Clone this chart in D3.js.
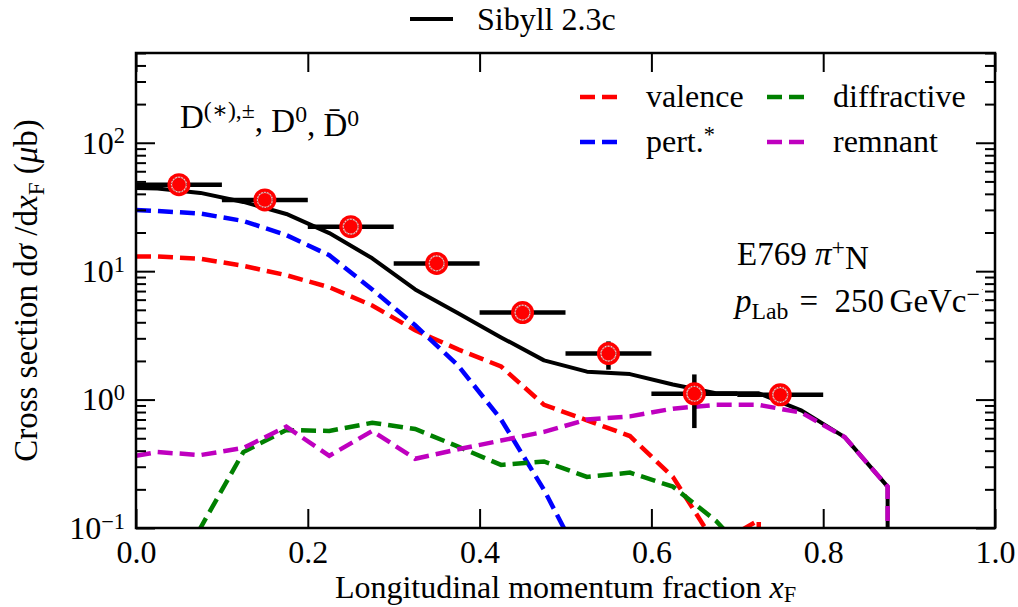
<!DOCTYPE html>
<html>
<head>
<meta charset="utf-8">
<script src="https://cdn.jsdelivr.net/npm/d3@7"></script>
<style>
  body { margin: 0; background: #fff; }
  svg text { font-family: "Liberation Serif", "Times New Roman", "DejaVu Serif", serif; fill: #000; }
</style>
</head>
<body>
<div class="svg-canvas"></div>
<script>
// D meson xF spectrum, E769 pi+ N at 250 GeV, vs Sibyll 2.3c components

// model nodes (bin centres, first node pinned to the axis edge)
var xF = [0, 0.025, 0.075, 0.125, 0.175, 0.225, 0.275, 0.325, 0.375, 0.425,
          0.475, 0.525, 0.575, 0.625, 0.675, 0.725, 0.775, 0.825, 0.875, 0.925];

var sibyll      = [44.5, 44.0, 40.7, 34.6, 27.9, 19.8, 12.6, 7.2, 4.7, 3.05,
                   2.02, 1.65, 1.58, 1.31, 1.12, 1.12, 0.82, 0.51, 0.21, 0];
var valence     = [13.0, 13.0, 12.5, 11.0, 9.3, 7.5, 5.4, 3.46, 2.46, 1.81,
                   0.91, 0.69, 0.52, 0.25, 0.074, 0.115, 0, null, null, null];
var pert        = [30.0, 29.4, 28.1, 24.6, 19.1, 13.3, 7.2, 3.79, 1.84, 0.70,
                   0.198, 0.045, 0.008, null, null, null, null, null, null, null];
var diffractive = [0.005, 0.02, 0.10, 0.39, 0.58, 0.57, 0.66, 0.59, 0.43, 0.31,
                   0.33, 0.25, 0.27, 0.21, 0.114, 0.05, 0.02, null, null, null];
var remnant     = [0.365, 0.39, 0.37, 0.42, 0.615, 0.365, 0.57, 0.346, 0.41, 0.48,
                   0.56, 0.70, 0.74, 0.85, 0.91, 0.91, 0.79, 0.51, 0.21, 0];

// E769 measurement
var dataX    = [0.05, 0.15, 0.25, 0.35, 0.45, 0.55, 0.65, 0.75];
var dataY    = [47.2, 35.9, 22.2, 11.5, 4.76, 2.28, 1.11, 1.09];
var dataXErr = [0.05, 0.05, 0.05, 0.05, 0.05, 0.05, 0.05, 0.05];
var dataYLo  = [3.0, 2.5, 1.6, 0.8, 0.35, 0.57, 0.51, 0.08];
var dataYHi  = [3.0, 2.5, 1.6, 0.8, 0.35, 0.56, 0.46, 0.08];

var xTicks = [0, 0.2, 0.4, 0.6, 0.8, 1.0];

var pl = {};
pl.margin = { top: 53, left: 136, right: 23, bottom: 79 };
pl.width = 1018 - pl.margin.left - pl.margin.right;
pl.height = 607 - pl.margin.top - pl.margin.bottom;
pl.font = 32;
pl.dash = "15,7";

var svg = d3.select("body").select(".svg-canvas").append("svg")
    .attr("width", 1018)
    .attr("height", 607);

var defs = svg.append("defs");
defs.append("clipPath").attr("id", "plotClip")
  .append("rect").attr("width", pl.width).attr("height", pl.height);

var g = svg.append("g")
    .attr("transform", "translate(" + pl.margin.left + "," + pl.margin.top + ")");

var x = d3.scaleLinear().domain([0, 1]).range([0, pl.width]);
var y = d3.scaleLog().domain([0.1, 500]).range([pl.height, 0]);

// ---- model curves ----
function curve(vals) {
  // a zero drops straight down from the previous node, like a log plot does
  var pts = [];
  vals.forEach(function(v, i) {
    if (v === null) return;
    if (v === 0) pts.push([x(xF[i - 1]), pl.height + 40]);
    else pts.push([x(xF[i]), y(v)]);
  });
  return d3.line()(pts);
}

var lines = g.append("g").attr("clip-path", "url(#plotClip)");

lines.append("path").attr("d", curve(sibyll))
    .attr("fill", "none").attr("stroke", "#000").attr("stroke-width", 4)
    .attr("stroke-linejoin", "round");

var comps = [
  { v: valence,     c: "#ff0000" },
  { v: pert,        c: "#0000ff" },
  { v: diffractive, c: "#008000" },
  { v: remnant,     c: "#bf00bf" }
];
comps.forEach(function(s) {
  lines.append("path").attr("d", curve(s.v))
      .attr("fill", "none").attr("stroke", s.c).attr("stroke-width", 4.5)
      .attr("stroke-dasharray", pl.dash);
});

// ---- data points ----
var pts = g.append("g");
dataX.forEach(function(d, i) {
  pts.append("line")
      .attr("x1", x(d - dataXErr[i])).attr("x2", x(d + dataXErr[i]))
      .attr("y1", y(dataY[i])).attr("y2", y(dataY[i]))
      .attr("stroke", "#000").attr("stroke-width", 4.5);
  pts.append("line")
      .attr("x1", x(d)).attr("x2", x(d))
      .attr("y1", y(dataY[i] - dataYLo[i])).attr("y2", y(dataY[i] + dataYHi[i]))
      .attr("stroke", "#000").attr("stroke-width", 4.5);
});
dataX.forEach(function(d, i) {
  pts.append("circle").attr("cx", x(d)).attr("cy", y(dataY[i])).attr("r", 11.5)
      .attr("fill", "#ff0000");
  pts.append("circle").attr("cx", x(d)).attr("cy", y(dataY[i])).attr("r", 7.5)
      .attr("fill", "none").attr("stroke", "#fff").attr("stroke-width", 1.2)
      .attr("stroke-opacity", 0.8);
  pts.append("circle").attr("cx", x(d)).attr("cy", y(dataY[i])).attr("r", 7.5)
      .attr("fill", "none").attr("stroke", "#700").attr("stroke-width", 0.8)
      .attr("stroke-dasharray", "1.5,1.5");
});

// ---- axes ----
var allY = y.ticks();
var majY = allY.filter(function(t) { return Math.abs(Math.log10(t) - Math.round(Math.log10(t))) < 1e-9; });
var minY = allY.filter(function(t) { return majY.indexOf(t) < 0; });

function styleAxis(sel) {
  sel.select(".domain").remove();
  sel.selectAll(".tick line").attr("stroke", "#000").attr("stroke-width", 2);
  sel.selectAll("text").attr("font-size", pl.font).attr("fill", "#000");
}

g.append("g").attr("transform", "translate(0," + pl.height + ")")
  .call(d3.axisBottom(x).tickValues(xTicks).tickFormat(d3.format(".1f"))
        .tickSize(-19).tickPadding(12))
  .call(styleAxis);
g.append("g")
  .call(d3.axisTop(x).tickValues(xTicks).tickFormat("").tickSize(-19))
  .call(styleAxis);

var yMaj = g.append("g")
  .call(d3.axisLeft(y).tickValues(majY).tickFormat("").tickSize(-19).tickPadding(11))
  .call(styleAxis);
g.append("g")
  .call(d3.axisLeft(y).tickValues(minY).tickFormat("").tickSize(-10))
  .call(styleAxis);
g.append("g").attr("transform", "translate(" + pl.width + ",0)")
  .call(d3.axisRight(y).tickValues(majY).tickFormat("").tickSize(-19))
  .call(styleAxis);
g.append("g").attr("transform", "translate(" + pl.width + ",0)")
  .call(d3.axisRight(y).tickValues(minY).tickFormat("").tickSize(-10))
  .call(styleAxis);

// power-of-ten labels
yMaj.selectAll(".tick text").each(function(d) {
  var t = d3.select(this).text("10");
  var e = Math.round(Math.log10(d));
  t.append("tspan").attr("dy", "-0.45em").attr("font-size", pl.font * 0.7)
      .text(e < 0 ? "\u2212" + (-e) : e);
});

// frame
g.append("rect").attr("width", pl.width).attr("height", pl.height)
    .attr("fill", "none").attr("stroke", "#000").attr("stroke-width", 2.5);

// ---- axis titles ----
var xl = svg.append("text").attr("x", pl.margin.left + pl.width / 2).attr("y", 598)
    .attr("text-anchor", "middle").attr("font-size", pl.font);
xl.append("tspan").text("Longitudinal momentum fraction ");
xl.append("tspan").attr("font-style", "italic").text("x");
xl.append("tspan").attr("font-size", pl.font * 0.7).attr("dy", "0.17em").text("F");

var yl = svg.append("text")
    .attr("transform", "translate(37," + (pl.margin.top + pl.height / 2) + ") rotate(-90)")
    .attr("text-anchor", "middle").attr("font-size", 33);
yl.append("tspan").text("Cross section d");
yl.append("tspan").attr("font-style", "italic").text("\u03c3");
yl.append("tspan").text("\u2005/d");
yl.append("tspan").attr("font-style", "italic").text("x");
yl.append("tspan").attr("font-size", 33 * 0.7).attr("dy", "0.3em").text("F");
yl.append("tspan").attr("dy", "-0.21em").text(" (");
yl.append("tspan").attr("font-style", "italic").text("\u03bc");
yl.append("tspan").text("b)");

// ---- legends ----
svg.append("line").attr("x1", 410).attr("x2", 453).attr("y1", 19).attr("y2", 19)
    .attr("stroke", "#000").attr("stroke-width", 4);
svg.append("text").attr("x", 477).attr("y", 30).attr("font-size", pl.font).text("Sibyll 2.3c");

var legItems = [
  { label: "valence",     c: "#ff0000", lx: 580, ly: 97 },
  { label: "pert.",       c: "#0000ff", lx: 580, ly: 142, sup: "*" },
  { label: "diffractive", c: "#008000", lx: 767, ly: 97 },
  { label: "remnant",     c: "#bf00bf", lx: 767, ly: 142 }
];
legItems.forEach(function(it) {
  svg.append("line").attr("x1", it.lx).attr("x2", it.lx + 39)
      .attr("y1", it.ly).attr("y2", it.ly)
      .attr("stroke", it.c).attr("stroke-width", 4.5).attr("stroke-dasharray", pl.dash);
  var t = svg.append("text").attr("x", it.lx + 66).attr("y", it.ly + 10)
      .attr("font-size", pl.font).text(it.label);
  if (it.sup) t.append("tspan").attr("dy", "-0.45em").attr("font-size", pl.font * 0.7).text(it.sup);
});

// ---- annotations ----
var fa = 33, fs = 33 * 0.72;
var ta = svg.append("text").attr("x", 180).attr("y", 128).attr("font-size", fa);
ta.append("tspan").text("D");
ta.append("tspan").attr("dy", "-0.42em").attr("font-size", fs).text("(\u2217),\u00b1");
ta.append("tspan").attr("dy", "0.42em").text(",\u2005D");
ta.append("tspan").attr("dy", "-0.42em").attr("font-size", fs).text("0");
ta.append("tspan").attr("dy", "0.42em").text(",\u2005D\u0304");
ta.append("tspan").attr("dy", "-0.42em").attr("font-size", fs).text("0");

var te = svg.append("text").attr("x", 737).attr("y", 265).attr("font-size", fa);
te.append("tspan").text("E769\u2005");
te.append("tspan").attr("font-style", "italic").text("\u03c0");
te.append("tspan").attr("dy", "-0.42em").attr("font-size", fs).text("+");
te.append("tspan").attr("dy", "0.42em").text("N");

// the momentum label runs into the right-hand frame, so it is cut there
defs.append("clipPath").attr("id", "annClip")
  .append("rect").attr("x", 700).attr("y", 280).attr("width", 283).attr("height", 50);
var tp = svg.append("text").attr("x", 735).attr("y", 312).attr("font-size", fa)
    .attr("clip-path", "url(#annClip)");
tp.append("tspan").attr("font-style", "italic").text("p");
tp.append("tspan").attr("dy", "0.3em").attr("font-size", fs).text("Lab");
tp.append("tspan").attr("dy", "-0.21em").text("\u2004=\u2002250\u2006GeVc");
tp.append("tspan").attr("dy", "-0.42em").attr("font-size", fs).text("\u22121");
</script>
</body>
</html>
